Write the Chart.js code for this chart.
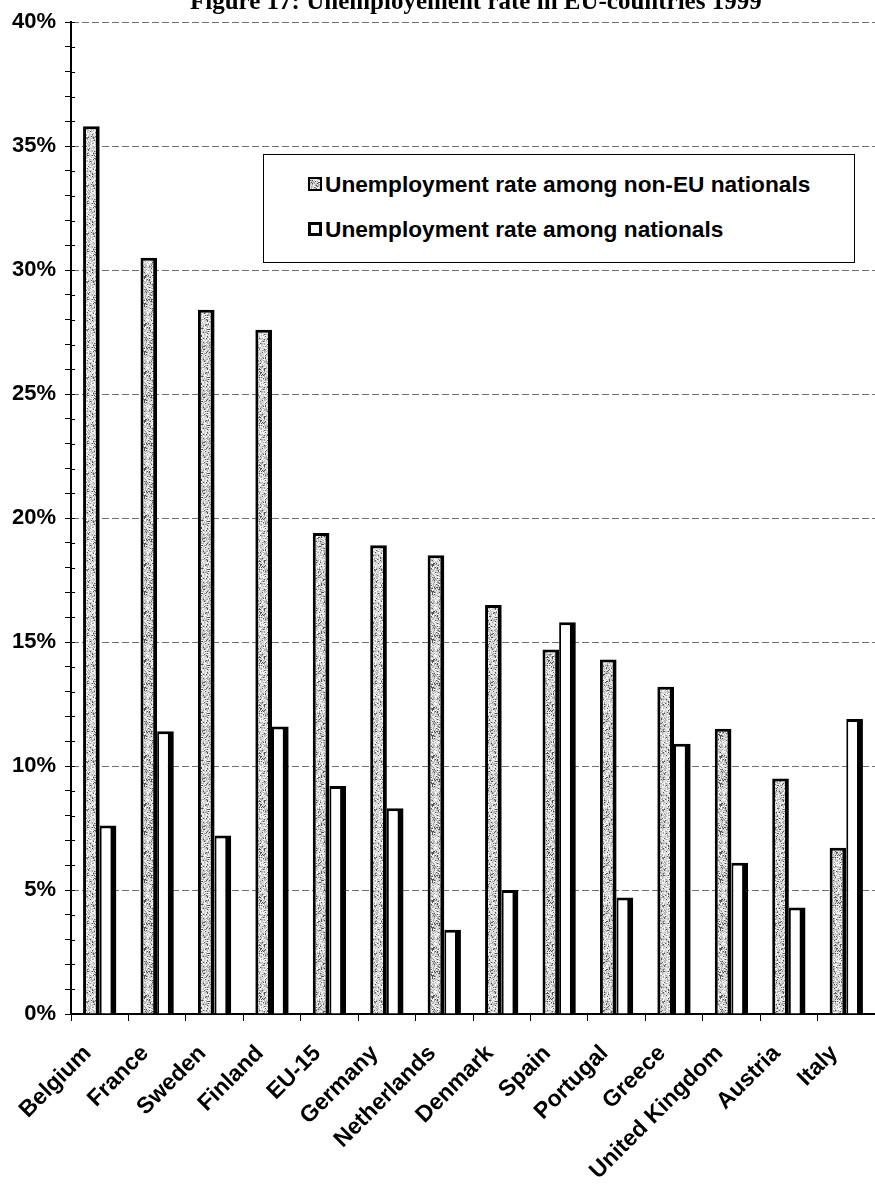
<!DOCTYPE html>
<html>
<head>
<meta charset="utf-8">
<script src="https://cdn.jsdelivr.net/npm/chart.js@4/dist/chart.umd.min.js"></script>
<style>
  html, body { margin: 0; padding: 0; background: #fff; }
  #wrap { position: relative; width: 875px; height: 1184px; overflow: hidden; }
  #title {
    position: absolute; left: 190px; top: -12px;
    font: bold 25px "Liberation Serif", "Times New Roman", serif;
    line-height: 25px; white-space: nowrap; color: #000;
  }
  #legend {
    position: absolute; left: 263px; top: 154px; width: 590px; height: 107px;
    border: 1px solid #000; background: #fff;
  }
  .item {
    position: absolute; left: 44px; height: 24px;
    display: flex; align-items: center; white-space: nowrap;
    font: bold 22.7px "Liberation Sans", Arial, sans-serif; color: #000;
  }
  .swatch { width: 14px; height: 14px; box-sizing: border-box; margin-right: 3px; }
</style>
</head>
<body>
<div id="wrap">
  <canvas id="chart" width="875" height="1184"></canvas>
  <div id="title">Figure 17: Unemployement rate in EU-countries 1999</div>
  <div id="legend"></div>
</div>
<script>
const countries = ["Belgium", "France", "Sweden", "Finland", "EU-15", "Germany", "Netherlands",
                   "Denmark", "Spain", "Portugal", "Greece", "United Kingdom", "Austria", "Italy"];
const nonEuRates = [35.8, 30.5, 28.4, 27.6, 19.4, 18.9, 18.5, 16.5, 14.7, 14.3, 13.2, 11.5, 9.5, 6.7];
const nationalRates = [7.6, 11.4, 7.2, 11.6, 9.2, 8.3, 3.4, 5.0, 15.8, 4.7, 10.9, 6.1, 4.3, 11.9];
const yMajorTicks = [0, 5, 10, 15, 20, 25, 30, 35, 40];
const seriesLabels = ["Unemployment rate among non-EU nationals", "Unemployment rate among nationals"];

const sansFont = '"Liberation Sans", Arial, sans-serif';

// grey speckled fill, built from a fixed hash so it looks the same every run
function makeStipple() {
  const size = 48;
  const c = document.createElement("canvas");
  c.width = c.height = size;
  const g = c.getContext("2d");
  const img = g.createImageData(size, size);
  for (let y = 0; y < size; y++) {
    for (let x = 0; x < size; x++) {
      let h = Math.imul(x + 1, 73856093) ^ Math.imul(y + 1, 19349663);
      h = Math.imul(h ^ (h >>> 15), 2246822519);
      h = (h ^ (h >>> 13)) >>> 0;
      const r = h % 100;
      const v = r < 11 ? 85 : r < 33 ? 170 : r < 72 ? 212 : 246;
      const i = (y * size + x) * 4;
      img.data[i] = img.data[i + 1] = img.data[i + 2] = v;
      img.data[i + 3] = 255;
    }
  }
  g.putImageData(img, 0, 0);
  return c;
}

const stippleCanvas = makeStipple();
const canvas = document.getElementById("chart");
const ctx = canvas.getContext("2d");
const stipple = ctx.createPattern(stippleCanvas, "repeat");

// short tick stubs on the inner side of the y axis
const innerTicks = {
  id: "innerTicks",
  afterDatasetsDraw(chart) {
    const y = chart.scales.y;
    const c = chart.ctx;
    c.save();
    c.strokeStyle = "#000";
    c.lineWidth = 1;
    y.ticks.forEach(t => {
      const py = Math.round(y.getPixelForValue(t.value)) + 0.5;
      c.beginPath();
      c.moveTo(y.right, py);
      c.lineTo(y.right + 4, py);
      c.stroke();
    });
    c.restore();
  }
};

const chart = new Chart(ctx, {
  type: "bar",
  data: {
    labels: countries,
    datasets: [{
      label: seriesLabels[0],
      data: nonEuRates,
      backgroundColor: stipple,
      borderColor: "#000",
      borderWidth: { top: 3, left: 3, right: 4, bottom: 0 },
      borderSkipped: "start"
    }, {
      label: seriesLabels[1],
      data: nationalRates,
      backgroundColor: "#fff",
      borderColor: "#000",
      borderWidth: { top: 3, left: 2, right: 6, bottom: 0 },
      borderSkipped: "start"
    }]
  },
  options: {
    responsive: false,
    animation: false,
    devicePixelRatio: 1,
    categoryPercentage: 0.58,
    barPercentage: 1.0,
    layout: { padding: { top: 18, right: 0, left: 0, bottom: 0 } },
    plugins: {
      legend: { display: false },
      tooltip: { enabled: false },
      title: { display: false }
    },
    scales: {
      x: {
        grid: {
          display: true, drawOnChartArea: false, drawTicks: true,
          tickLength: 7, color: "#000", tickColor: "#000", offset: true
        },
        border: { display: true, color: "#000", width: 2 },
        ticks: {
          color: "#000", autoSkip: false, maxRotation: 45, minRotation: 45,
          padding: 19, labelOffset: -12,
          font: { family: sansFont, size: 23, weight: "bold" }
        },
        afterFit(s) {
          s.height = 170;
          // the plot runs right up to the page edge
          s.paddingLeft = 0;
          s.paddingRight = 0;
        }
      },
      y: {
        min: 0,
        max: 40,
        ticks: {
          stepSize: 1, autoSkip: false, color: "#000", padding: 9,
          font: { family: sansFont, size: 22, weight: "bold" },
          callback: v => yMajorTicks.includes(v) ? v + "%" : ""
        },
        grid: {
          color: c => (c.tick && c.tick.value > 0 && yMajorTicks.includes(c.tick.value)) ? "#707070" : "rgba(0,0,0,0)",
          tickColor: "#000", tickLength: 6, lineWidth: 1, tickBorderDash: []
        },
        border: { display: true, color: "#000", width: 2, dash: [7, 3] },
        afterFit(s) { s.width = 71; }
      }
    }
  },
  plugins: [innerTicks]
});

// legend box drawn as html, one row per dataset
const legend = document.getElementById("legend");
const rowTops = [17, 62];
chart.data.datasets.forEach((ds, i) => {
  const row = document.createElement("div");
  row.className = "item";
  row.style.top = rowTops[i] + "px";
  const sw = document.createElement("span");
  sw.className = "swatch";
  if (i === 0) {
    sw.style.backgroundImage = "url(" + stippleCanvas.toDataURL() + ")";
    sw.style.border = "2px solid #000";
  } else {
    sw.style.background = "#fff";
    sw.style.border = "3px solid #000";
  }
  const txt = document.createElement("span");
  txt.textContent = ds.label;
  row.appendChild(sw);
  row.appendChild(txt);
  legend.appendChild(row);
});
</script>
</body>
</html>
